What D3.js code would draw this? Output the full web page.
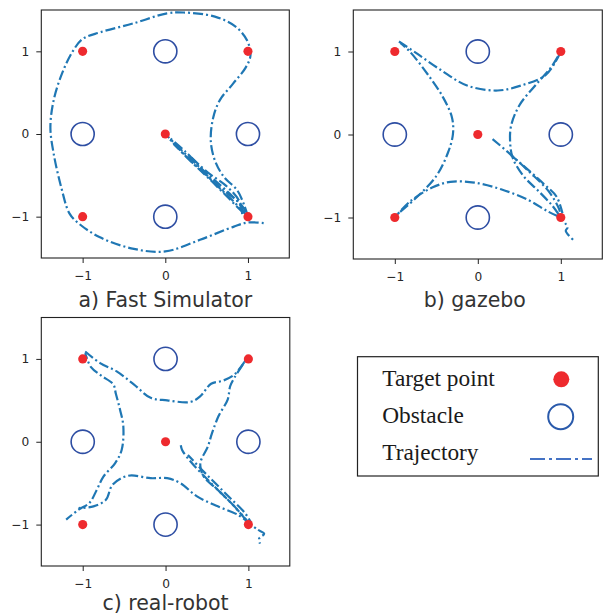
<!DOCTYPE html>
<html>
<head>
<meta charset="utf-8">
<script src="https://cdn.jsdelivr.net/npm/d3@7"></script>
<style>
  html, body { margin: 0; padding: 0; background: #fff; }
  svg { display: block; }
</style>
</head>
<body>
<svg id="chart" width="607" height="614"></svg>
<script>
// ---------------- DATA ----------------
const tickValues = [-1, 0, 1];
const axisDomain = [-1.5, 1.5];

const targets = [[-1, 1], [1, 1], [0, 0], [-1, -1], [1, -1]];
const obstacles = [[0, 1], [-1, 0], [1, 0], [0, -1]];

const panelTitles = ["a) Fast Simulator", "b) gazebo", "c) real-robot"];

// a) Fast Simulator
const trajA_loop = [[1.0,-1.0],[0.95,-0.85],[0.87,-0.68],[0.71,-0.52],[0.60,-0.32],[0.55,-0.08],[0.58,0.20],[0.66,0.41],[0.82,0.61],[0.97,0.80],[1.03,0.95],[0.99,1.13],[0.85,1.30],[0.60,1.42],[0.22,1.47],[0.02,1.46],[-0.38,1.34],[-0.79,1.23],[-1.0,1.15],[-1.12,1.0],[-1.25,0.73],[-1.35,0.41],[-1.39,0.08],[-1.35,-0.24],[-1.26,-0.64],[-1.16,-0.96],[-1.05,-1.08],[-0.79,-1.25],[-0.38,-1.39],[0.0,-1.42],[0.42,-1.28],[0.83,-1.12],[1.0,-1.07],[1.2,-1.08]];
const trajA_go1 = [[0,0],[0.2,-0.2],[0.4,-0.39],[0.6,-0.6],[0.8,-0.79],[1,-1]];
const trajA_go2 = [[0.02,-0.02],[0.25,-0.22],[0.45,-0.43],[0.62,-0.58],[0.80,-0.74],[0.95,-0.90],[0.98,-1.0]];
const trajA_go3 = [[0.05,-0.06],[0.30,-0.32],[0.50,-0.50],[0.70,-0.68],[0.88,-0.82],[0.95,-0.95],[1.0,-1.0]];
const trajA_go4 = [[0.30,-0.27],[0.52,-0.47],[0.74,-0.63],[0.90,-0.82],[0.93,-0.97]];
const trajA_go5 = [[0.10,-0.12],[0.35,-0.37],[0.55,-0.56],[0.75,-0.76],[0.92,-0.93],[1.0,-1.0]];

// b) gazebo
const trajB_top = [[-0.95,1.12],[-0.74,0.98],[-0.45,0.78],[-0.13,0.59],[0.24,0.53],[0.52,0.59],[0.81,0.71],[0.95,0.90],[1.0,1.0]];
const trajB_left = [[-0.93,1.10],[-0.82,1.0],[-0.60,0.72],[-0.42,0.45],[-0.31,0.20],[-0.30,0.0],[-0.36,-0.22],[-0.50,-0.50],[-0.74,-0.76],[-0.98,-0.97]];
const trajB_bottom = [[-1.0,-1.0],[-0.82,-0.81],[-0.55,-0.64],[-0.33,-0.57],[-0.04,-0.58],[0.28,-0.66],[0.61,-0.79],[0.85,-0.93],[1.0,-1.0]];
const trajB_right = [[1.0,1.0],[0.89,0.82],[0.70,0.60],[0.50,0.35],[0.40,0.10],[0.39,-0.10],[0.42,-0.28],[0.55,-0.50],[0.73,-0.68],[0.90,-0.86],[1.0,-1.0]];
const trajB_go1 = [[0.16,-0.04],[0.36,-0.21],[0.61,-0.44],[0.85,-0.68],[0.98,-0.90],[1.0,-1.0]];
const trajB_go2 = [[0.40,-0.25],[0.60,-0.42],[0.80,-0.60],[0.95,-0.75],[1.02,-0.95]];
const trajB_tail = [[1.0,-1.0],[1.08,-1.12],[1.06,-1.16],[1.15,-1.27]];

// c) real-robot
const trajC_top = [[-0.97,1.09],[-0.79,0.95],[-0.59,0.85],[-0.38,0.69],[-0.18,0.53],[0.02,0.50],[0.30,0.48],[0.42,0.55],[0.55,0.70],[0.70,0.74],[0.83,0.81],[0.97,0.99]];
const trajC_left = [[-0.97,1.07],[-0.90,0.90],[-0.78,0.80],[-0.63,0.69],[-0.60,0.58],[-0.55,0.39],[-0.51,0.19],[-0.53,-0.10],[-0.61,-0.26],[-0.75,-0.42],[-0.83,-0.58],[-0.92,-0.74],[-1.05,-0.82],[-1.20,-0.94]];
const trajC_bottom = [[-1.05,-0.80],[-0.87,-0.78],[-0.72,-0.70],[-0.64,-0.52],[-0.45,-0.41],[-0.18,-0.44],[0.02,-0.44],[0.18,-0.50],[0.38,-0.66],[0.63,-0.78],[0.87,-0.88],[1.01,-0.98]];
const trajC_right = [[0.97,0.99],[0.83,0.77],[0.78,0.67],[0.75,0.51],[0.64,0.31],[0.56,0.10],[0.51,-0.06],[0.42,-0.26],[0.46,-0.42],[0.63,-0.58],[0.83,-0.78],[0.99,-0.96]];
const trajC_go1 = [[0.18,-0.02],[0.20,-0.10],[0.32,-0.26],[0.51,-0.46],[0.67,-0.62],[0.83,-0.78],[1.0,-0.98]];
const trajC_go2 = [[0.27,-0.16],[0.45,-0.35],[0.62,-0.52],[0.78,-0.68],[0.95,-0.85],[1.03,-0.97]];
const trajC_tail = [[1.0,-0.98],[1.11,-1.06],[1.19,-1.11],[1.13,-1.17],[1.14,-1.23]];

const trajA = [trajA_loop, trajA_go1, trajA_go2, trajA_go3, trajA_go4, trajA_go5];
const trajB = [trajB_top, trajB_left, trajB_bottom, trajB_right, trajB_go1, trajB_go2, trajB_tail];
const trajC = [trajC_top, trajC_left, trajC_bottom, trajC_right, trajC_go1, trajC_go2, trajC_tail];

const legendLabels = ["Target point", "Obstacle", "Trajectory"];

// ---------------- LAYOUT / STYLE ----------------
const svg = d3.select("#chart");
svg.append("rect").attr("width", 607).attr("height", 614).attr("fill", "#fff");

const panels = [
  { left: 41.3, top: 10, size: 248, title: panelTitles[0], titleY: 307.3, trajs: trajA },
  { left: 353.3, top: 10, size: 249, title: panelTitles[1], titleY: 307.3, trajs: trajB },
  { left: 41.3, top: 317.5, size: 248.5, title: panelTitles[2], titleY: 610, trajs: trajC }
];

const trajColor = "#1f77b4";
const obsColor = "#2e4ea3";
const dotColor = "#ee2a2e";
const tickFont = "DejaVu Sans, sans-serif";
const fmt = d => d3.format("d")(d);

panels.forEach((p, pi) => {
  const x = d3.scaleLinear().domain(axisDomain).range([p.left, p.left + p.size]);
  const y = d3.scaleLinear().domain(axisDomain).range([p.top + p.size, p.top]);
  const g = svg.append("g");
  const r = d => x(d) - x(0);

  // trajectories
  const line = d3.line().x(d => x(d[0])).y(d => y(d[1])).curve(d3.curveCatmullRom.alpha(0.5));
  p.trajs.forEach((t, i) => {
    g.append("path")
      .attr("d", line(t))
      .attr("fill", "none")
      .attr("stroke", trajColor)
      .attr("stroke-width", 2.2)
      .attr("stroke-dasharray", "10,3,2,3")
      .attr("stroke-dashoffset", i * 4)
      .attr("stroke-linecap", "butt");
  });

  // obstacles
  g.selectAll(".obs").data(obstacles).enter().append("circle")
    .attr("cx", d => x(d[0])).attr("cy", d => y(d[1]))
    .attr("r", r(0.14))
    .attr("fill", "none").attr("stroke", obsColor).attr("stroke-width", 1.6);

  // targets
  g.selectAll(".tgt").data(targets).enter().append("circle")
    .attr("cx", d => x(d[0])).attr("cy", d => y(d[1]))
    .attr("r", r(0.055))
    .attr("fill", dotColor);

  // axes
  const xa = g.append("g").attr("transform", `translate(0,${p.top + p.size})`)
    .call(d3.axisBottom(x).tickValues(tickValues).tickFormat(fmt).tickSize(5).tickPadding(8));
  const ya = g.append("g").attr("transform", `translate(${p.left},0)`)
    .call(d3.axisLeft(y).tickValues(tickValues).tickFormat(fmt).tickSize(5).tickPadding(7));
  [xa, ya].forEach(a => {
    a.select(".domain").remove();
    a.selectAll("line").attr("stroke", "#222").attr("stroke-width", 1);
    a.selectAll("text").attr("font-family", tickFont).attr("font-size", 12.2).attr("fill", "#262626");
  });

  // frame
  g.append("rect")
    .attr("x", x(axisDomain[0])).attr("y", y(axisDomain[1]))
    .attr("width", x(axisDomain[1]) - x(axisDomain[0]))
    .attr("height", y(axisDomain[0]) - y(axisDomain[1]))
    .attr("fill", "none").attr("stroke", "#222").attr("stroke-width", 1.1);

  // title
  svg.append("text")
    .attr("x", (x(axisDomain[0]) + x(axisDomain[1])) / 2 - (pi === 1 ? 3 : 0))
    .attr("y", p.titleY)
    .attr("text-anchor", "middle")
    .attr("font-family", tickFont)
    .attr("font-size", 20.5)
    .attr("fill", "#333")
    .text(p.title);
});

// ---------------- LEGEND ----------------
const lg = svg.append("g");
lg.append("rect").attr("x", 357.5).attr("y", 356.7).attr("width", 240.8).attr("height", 119.3)
  .attr("fill", "#fff").attr("stroke", "#222").attr("stroke-width", 1.2);
const legY = [386, 422.7, 459.5];
legendLabels.forEach((t, i) => {
  lg.append("text").attr("x", 382.3).attr("y", legY[i])
    .attr("font-family", "Liberation Serif, Times New Roman, serif")
    .attr("font-size", 23.3).attr("fill", "#1a1a1a").text(t);
});
lg.append("circle").attr("cx", 561.3).attr("cy", 379.3).attr("r", 8).attr("fill", dotColor);
lg.append("circle").attr("cx", 560.7).attr("cy", 416.7).attr("r", 12.5)
  .attr("fill", "none").attr("stroke", "#2a5aab").attr("stroke-width", 2);
lg.append("line").attr("x1", 530).attr("x2", 592).attr("y1", 459).attr("y2", 459)
  .attr("stroke", "#4472c4").attr("stroke-width", 2).attr("stroke-dasharray", "15,4,3,4");
</script>
</body>
</html>
